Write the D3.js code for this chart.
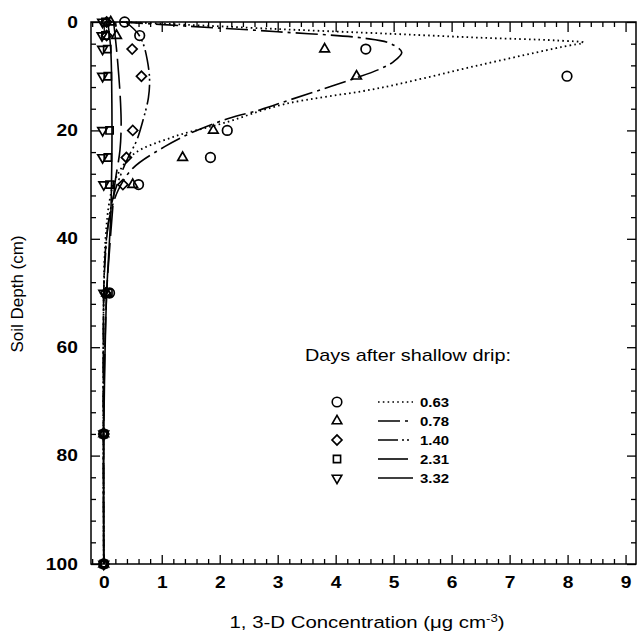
<!DOCTYPE html>
<html><head><meta charset="utf-8">
<script src="https://cdn.jsdelivr.net/npm/d3@7"></script>
<style>body{margin:0;background:#fff}svg{display:block}</style>
</head><body>
<svg id="c" width="637" height="639"></svg>
<script>
// ---- data ----
const depths = [0, 2.5, 5, 10, 20, 25, 30, 50, 76, 100];
const obs063 = [0.36, 0.62, 4.52, 7.99, 2.13, 1.84, 0.60, 0.10, 0, 0];
const obs078 = [0.12, 0.22, 3.81, 4.36, 1.89, 1.36, 0.50, 0.05, 0, 0];
const obs140 = [0.05, 0.05, 0.49, 0.65, 0.50, 0.39, 0.33, 0.03, 0, 0];
const obs231 = [0.03, 0.03, 0.06, 0.07, 0.10, 0.07, 0.10, 0.08, 0, 0];
const obs332 = [-0.02, -0.03, -0.02, -0.02, -0.02, -0.02, 0.0, 0.0, 0, 0];

const mDepth063 = [0, 0.3, 1.3, 2.2, 2.9, 3.4, 3.8, 4.6, 7.9, 12.2, 15.2, 18.7, 21.2, 24.5, 29, 33, 40, 50, 100];
const mConc063  = [0.3, 1.0, 3.0, 5.0, 6.5, 7.8, 8.27, 7.9, 6.5, 4.75, 3.1, 2.05, 1.2, 0.5, 0.2, 0.1, 0.03, 0, 0];
const mDepth078 = [0, 0.8, 1.8, 3.0, 4.0, 5.6, 7.3, 8.5, 10.3, 12.3, 14.4, 16.2, 17.8, 20.5, 23, 27, 31, 36, 42, 50, 100];
const mConc078  = [0.3, 1.5, 3.0, 4.5, 4.95, 5.14, 5.0, 4.8, 4.36, 3.8, 3.2, 2.7, 2.15, 1.5, 1.05, 0.5, 0.25, 0.1, 0.03, 0, 0];
const mDepth140 = [0, 2, 4, 7, 10.5, 14, 18, 21.8, 25, 28, 32, 37, 43, 50, 100];
const mConc140  = [0.38, 0.58, 0.68, 0.75, 0.79, 0.77, 0.68, 0.57, 0.42, 0.30, 0.17, 0.08, 0.03, 0, 0];
const mDepth231 = [0, 5, 10, 15, 19, 23.6, 30, 35, 42, 50, 65, 76, 100];
const mConc231  = [0.17, 0.22, 0.26, 0.29, 0.30, 0.28, 0.19, 0.15, 0.10, 0.05, 0.01, 0, 0];
const mDepth332 = [0, 5, 15, 25, 32, 36, 42, 50, 62, 76, 100];
const mConc332  = [0.07, 0.12, 0.14, 0.14, 0.13, 0.12, 0.09, 0.05, 0.02, 0, 0];

const seriesNames = ["0.63", "0.78", "1.40", "2.31", "3.32"];
const xTicks = [0,1,2,3,4,5,6,7,8,9];
const yTicks = [0,20,40,60,80,100];
const xTitle = "1, 3-D Concentration (\u03bcg cm";
const yTitle = "Soil Depth (cm)";
const legendTitle = "Days after shallow drip:";

// ---- chart ----
const svg = d3.select("#c");
const F = "'Liberation Sans', Arial, Helvetica, sans-serif";
const L = 91, R = 636, T = 22, B = 564;
const x = d3.scaleLinear().domain([-0.22, 9.18]).range([L, R]);
const y = d3.scaleLinear().domain([0, 100]).range([T, B]);
const SX = 1.2; // horizontal text stretch seen in the reference

const xMinor = d3.range(-0.2, 9.19, 0.2).map(v => +v.toFixed(1)).filter(v => Math.abs(v - Math.round(v)) > 1e-6);
const yMinor = d3.range(0, 101, 4).filter(v => v % 20 !== 0);

function styleAxis(g){
  g.select(".domain").remove();
  g.selectAll("line").attr("stroke","#000").attr("stroke-width",1.3);
  g.selectAll("text").attr("font-family",F).attr("font-weight","bold").attr("font-size",16).attr("fill","#000")
    .attr("transform",`scale(${SX},1)`);
}
// bottom
svg.append("g").attr("transform",`translate(0,${B})`)
  .call(d3.axisBottom(x).tickValues(xTicks).tickSize(-9).tickPadding(13).tickFormat(d3.format("d"))).call(styleAxis);
svg.append("g").attr("transform",`translate(0,${B})`)
  .call(d3.axisBottom(x).tickValues(xMinor).tickSize(-5).tickFormat("")).call(styleAxis);
// top
svg.append("g").attr("transform",`translate(0,${T})`)
  .call(d3.axisTop(x).tickValues(xTicks).tickSize(-10).tickFormat("")).call(styleAxis);
svg.append("g").attr("transform",`translate(0,${T})`)
  .call(d3.axisTop(x).tickValues(xMinor).tickSize(-5).tickFormat("")).call(styleAxis);
// left
svg.append("g").attr("transform",`translate(${L},0)`)
  .call(d3.axisLeft(y).tickValues(yTicks).tickSize(-9).tickPadding(11).tickFormat(d3.format("d"))).call(styleAxis);
svg.append("g").attr("transform",`translate(${L},0)`)
  .call(d3.axisLeft(y).tickValues(yMinor).tickSize(-5).tickFormat("")).call(styleAxis);
// right
svg.append("g").attr("transform",`translate(${R},0)`)
  .call(d3.axisRight(y).tickValues(yTicks).tickSize(-9).tickFormat("")).call(styleAxis);
svg.append("g").attr("transform",`translate(${R},0)`)
  .call(d3.axisRight(y).tickValues(yMinor).tickSize(-5).tickFormat("")).call(styleAxis);

// frame
svg.append("rect").attr("x",L).attr("y",T).attr("width",R-L).attr("height",B-T)
  .attr("fill","none").attr("stroke","#000").attr("stroke-width",1.5);

// model lines
const dashes = ["1.6,3.2", "22,5,3,5", "20,4,2,3,2,4", "30,7", null];
const models = [[mDepth063,mConc063],[mDepth078,mConc078],[mDepth140,mConc140],[mDepth231,mConc231],[mDepth332,mConc332]];
const line = d3.line().x(d => x(d[1])).y(d => y(d[0])).curve(d3.curveCatmullRom.alpha(0.5));
models.forEach((m,i) => {
  const pts = m[0].map((d,j) => [d, m[1][j]]);
  svg.append("path").attr("d", line(pts)).attr("fill","none").attr("stroke","#000")
    .attr("stroke-width", i===0 ? 1.8 : 1.6)
    .attr("stroke-dasharray", dashes[i]);
});

// markers
const symTypes = [d3.symbolCircle, d3.symbolTriangle, d3.symbolSquare, d3.symbolSquare, d3.symbolTriangle];
const symSizes = [72, 40, 50, 52, 40];
const symRot = [0, 0, 45, 0, 180];
function markerPath(i){
  return d3.symbol().type(symTypes[i]).size(symSizes[i])();
}
const obs = [obs063, obs078, obs140, obs231, obs332];
obs.forEach((vals,i) => {
  svg.append("g").selectAll("path").data(vals.map((v,j)=>[depths[j], v])).join("path")
    .attr("d", markerPath(i))
    .attr("transform", d => `translate(${x(d[1])},${y(d[0])}) rotate(${symRot[i]})`)
    .attr("fill","none").attr("stroke","#000").attr("stroke-width",1.7);
});

// legend
svg.append("text").attr("x",305).attr("y",361).attr("font-family",F).attr("font-size",17)
  .attr("textLength",206).attr("lengthAdjust","spacingAndGlyphs").text(legendTitle);
const legY = [402, 421, 440, 459, 478];
seriesNames.forEach((n,i) => {
  svg.append("path").attr("d", markerPath(i))
    .attr("transform", `translate(337,${legY[i]}) rotate(${symRot[i]})`)
    .attr("fill","none").attr("stroke","#000").attr("stroke-width",1.6);
  svg.append("line").attr("x1",378).attr("x2",413).attr("y1",legY[i]).attr("y2",legY[i])
    .attr("stroke","#000").attr("stroke-width",1.6).attr("stroke-dasharray", dashes[i]);
  svg.append("text").attr("transform",`translate(420,${legY[i]+5}) scale(1.15,1)`).attr("font-family",F).attr("font-weight","bold")
    .attr("font-size",13).text(n);
});

// titles
const xt = svg.append("text").attr("transform",`translate(367,628) scale(${SX},1)`).attr("text-anchor","middle")
  .attr("font-family",F).attr("font-size",17);
xt.append("tspan").text(xTitle);
xt.append("tspan").attr("dy",-6).attr("font-size",11).text("-3");
xt.append("tspan").attr("dy",6).text(")");
svg.append("text").attr("transform","translate(23,294) rotate(-90)").attr("text-anchor","middle")
  .attr("font-family",F).attr("font-size",17).text(yTitle);
</script>
</body></html>
